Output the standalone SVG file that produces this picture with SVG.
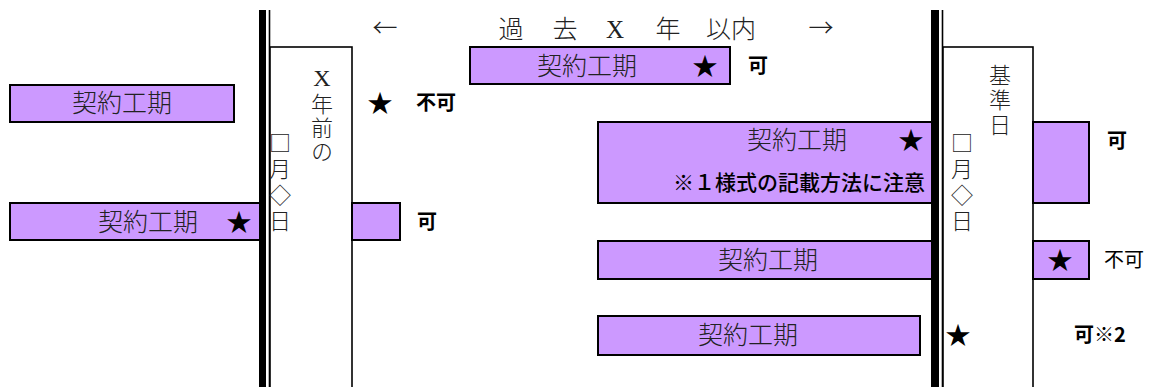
<svg xmlns="http://www.w3.org/2000/svg" width="1160" height="387" viewBox="0 0 1160 387">
<style>
.bar{fill:#CC99FF;stroke:#000;stroke-width:2}
.col{fill:#fff;stroke:#000;stroke-width:1.6}
.t{font-family:"Noto Sans CJK JP",sans-serif;font-size:25px;font-weight:300;fill:#222;text-anchor:middle}
.v{font-family:"Noto Sans CJK JP",sans-serif;font-size:22px;font-weight:300;fill:#222;writing-mode:vertical-rl;text-orientation:upright;letter-spacing:4px}
.s{font-family:"Noto Sans CJK JP",sans-serif;font-size:25px;fill:#000;text-anchor:middle}
.b{font-family:"Noto Sans CJK JP",sans-serif;font-size:20px;font-weight:700;fill:#000}
.m{font-family:"Noto Sans CJK JP",sans-serif;font-size:21px;font-weight:500;fill:#000;text-anchor:end}
.r{font-family:"Noto Sans CJK JP",sans-serif;font-size:20px;font-weight:400;fill:#000}
.h{font-family:"Noto Sans CJK JP",serif;font-size:25px;font-weight:300;fill:#222;text-anchor:middle}
.x{font-family:"Liberation Serif",serif;font-size:25px;fill:#222;text-anchor:middle}
.xv{font-family:"Liberation Serif",serif;font-size:24px}
</style>
<rect width="1160" height="387" fill="#fff"/>

<g id="col-left">
<line x1="269.5" y1="10" x2="269.5" y2="387" stroke="#000" stroke-width="1.6"/>
<rect class="col" x="270" y="47" width="82" height="350"/>
<text class="v" x="322" y="65" style="letter-spacing:2px"><tspan class="xv">X</tspan>年前の</text>
<text class="v" x="280" y="132">□月◇日</text>
</g>

<g id="col-right">
<line x1="942.5" y1="10" x2="942.5" y2="387" stroke="#000" stroke-width="1.6"/>
<rect class="col" x="943" y="47" width="90" height="350"/>
<text class="v" x="1000" y="64" style="letter-spacing:3px">基準日</text>
<text class="v" x="962" y="132">□月◇日</text>
</g>

<g id="bars">
<g id="bar1"><rect class="bar" x="470" y="47" width="260" height="37"/><text class="t" x="587" y="75">契約工期</text><text class="s" x="705" y="75">★</text><text class="b" x="748" y="73">可</text></g>
<g id="bar2"><rect class="bar" x="10" y="85" width="224" height="37"/><text class="t" x="122" y="112">契約工期</text><text class="s" x="380" y="112">★</text><text class="b" x="416" y="110">不可</text></g>
<g id="bar3"><rect class="bar" x="10" y="203" width="252" height="37"/><rect class="bar" x="352" y="203" width="48" height="37"/><text class="t" x="148" y="231">契約工期</text><text class="s" x="239" y="231">★</text><text class="b" x="417" y="229">可</text></g>
<g id="bar4"><rect class="bar" x="598" y="122" width="335" height="81"/><rect class="bar" x="1033" y="122" width="56" height="81"/><text class="t" x="797" y="149">契約工期</text><text class="s" x="911" y="149">★</text><text class="m" x="925" y="190">※１様式の記載方法に注意</text><text class="b" x="1107" y="148">可</text></g>
<g id="bar5"><rect class="bar" x="598" y="241" width="335" height="38"/><rect class="bar" x="1033" y="241" width="56" height="38"/><text class="t" x="768" y="269">契約工期</text><text class="s" x="1060" y="269">★</text><text class="r" x="1104" y="267">不可</text></g>
<g id="bar6"><rect class="bar" x="598" y="316" width="322" height="39"/><text class="t" x="748" y="344">契約工期</text><text class="s" x="958" y="344">★</text><text class="b" x="1074" y="342">可※2</text></g>
</g>

<g id="datelines">
<rect x="259" y="10" width="7" height="377" fill="#000"/>
<rect x="931" y="10" width="8" height="377" fill="#000"/>
</g>

<g id="header">
<text class="h" x="385" y="37">←</text>
<text class="h" x="511" y="38">過</text>
<text class="h" x="565" y="38">去</text>
<text class="x" x="615" y="38">X</text>
<text class="h" x="668" y="38">年</text>
<text class="h" x="731" y="38">以内</text>
<text class="h" x="821" y="37">→</text>
</g>
</svg>
